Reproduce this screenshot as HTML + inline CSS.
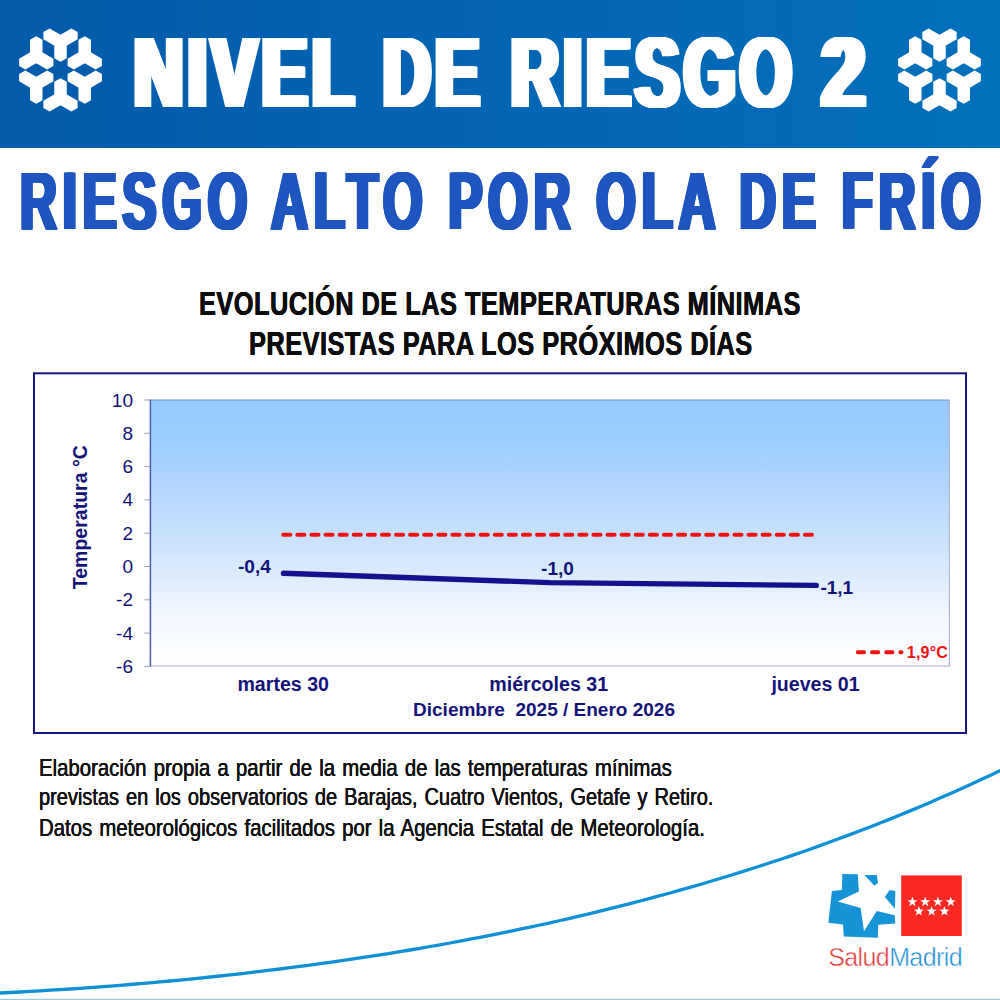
<!DOCTYPE html>
<html lang="es">
<head>
<meta charset="utf-8">
<title>Nivel de riesgo 2 - Riesgo alto por ola de frío</title>
<style>
html,body{margin:0;padding:0;}
body{width:1000px;height:1000px;position:relative;overflow:hidden;background:#fff;font-family:"Liberation Sans",sans-serif;}
.abs{position:absolute;}
.cond{position:absolute;white-space:nowrap;transform-origin:0 0;line-height:1;}
#hdr{left:0;top:0;width:1000px;height:148px;background:linear-gradient(90deg,#045aab 0%,#0270bc 100%);}
#h1{left:0;top:22.8px;width:1000px;height:100px;font-size:99.4px;font-weight:bold;color:#fff;letter-spacing:7px;line-height:1;white-space:nowrap;

 text-shadow:1px 0 #fff,-1px 0 #fff,2px 0 #fff,-2px 0 #fff,3px 0 #fff,-3px 0 #fff,4px 0 #fff,-4px 0 #fff,5px 0 #fff,-5px 0 #fff,6px 0 #fff,-6px 0 #fff;}
#h1 span{position:absolute;top:0;display:block;transform-origin:0 0;}
#h2{left:19.6px;top:160px;font-size:82px;font-weight:bold;color:#1f55bf;letter-spacing:9.3px;word-spacing:0px;transform:scaleX(0.622);
 text-shadow:1px 0 #1f55bf,-1px 0 #1f55bf,2px 0 #1f55bf,-2px 0 #1f55bf,3px 0 #1f55bf,-3px 0 #1f55bf,3.3px 0 #1f55bf,-3.3px 0 #1f55bf;}
.t3{font-size:33.3px;font-weight:bold;color:#0c0c0c;transform:scaleX(0.7625);letter-spacing:0.6px;text-shadow:0.35px 0 #0c0c0c,-0.35px 0 #0c0c0c;}
.ft{font-size:24.5px;color:#111;word-spacing:1.8px;text-shadow:0.2px 0 #111,-0.2px 0 #111;}
#gfx{position:absolute;left:0;top:0;}
#gfx text{font-family:"Liberation Sans",sans-serif;}
.yl{font-size:19px;fill:#13137a;text-anchor:end;}
.xl{font-size:19.6px;font-weight:bold;fill:#13137a;text-anchor:middle;}
.dl{font-size:19px;font-weight:bold;fill:#13137a;}
#logo{left:828.2px;top:944.6px;font-size:25px;line-height:1;letter-spacing:-0.6px;white-space:nowrap;-webkit-text-stroke:0.45px #fff;}
</style>
</head>
<body>
<div id="hdr" class="abs"></div>
<svg id="gfx" width="1000" height="1000" viewBox="0 0 1000 1000">
<defs>
<linearGradient id="pg" x1="0" y1="0" x2="0" y2="1"><stop offset="0" stop-color="#98caff"/><stop offset="0.15" stop-color="#9dcdff"/><stop offset="0.5" stop-color="#c6e0fd"/><stop offset="0.8" stop-color="#f0f6fe"/><stop offset="1" stop-color="#ffffff"/></linearGradient>
</defs>
<path fill="#fff" d="M66.75 42.00L66.75 58.19L60.50 61.80L54.25 58.19L54.25 42.00L60.50 38.39ZM57.38 36.59L71.40 28.49L77.65 32.10L77.65 39.32L63.62 47.41L57.37 43.80ZM57.38 47.41L43.35 39.32L43.35 32.10L49.60 28.49L63.62 36.59L63.63 43.80ZM39.38 50.59L53.40 58.68L53.40 65.90L47.15 69.51L33.13 61.41L33.13 54.20ZM30.00 56.00L30.00 39.81L36.25 36.20L42.50 39.81L42.50 56.00L36.25 59.61ZM39.38 61.41L25.35 69.51L19.10 65.90L19.10 58.68L33.13 50.59L39.38 54.20ZM33.13 78.59L47.15 70.49L53.40 74.10L53.40 81.32L39.38 89.41L33.13 85.80ZM33.13 89.41L19.10 81.32L19.10 74.10L25.35 70.49L39.38 78.59L39.38 85.80ZM42.50 84.00L42.50 100.19L36.25 103.80L30.00 100.19L30.00 84.00L36.25 80.39ZM54.25 98.00L54.25 81.81L60.50 78.20L66.75 81.81L66.75 98.00L60.50 101.61ZM63.62 103.41L49.60 111.51L43.35 107.90L43.35 100.68L57.38 92.59L63.63 96.20ZM63.62 92.59L77.65 100.68L77.65 107.90L71.40 111.51L57.37 103.41L57.37 96.20ZM81.62 89.41L67.60 81.32L67.60 74.10L73.85 70.49L87.87 78.59L87.87 85.80ZM91.00 84.00L91.00 100.19L84.75 103.80L78.50 100.19L78.50 84.00L84.75 80.39ZM81.62 78.59L95.65 70.49L101.90 74.10L101.90 81.32L87.87 89.41L81.62 85.80ZM87.87 61.41L73.85 69.51L67.60 65.90L67.60 58.68L81.62 50.59L87.87 54.20ZM87.87 50.59L101.90 58.68L101.90 65.90L95.65 69.51L81.62 61.41L81.62 54.20ZM78.50 56.00L78.50 39.81L84.75 36.20L91.00 39.81L91.00 56.00L84.75 59.61Z"/>
<path fill="#fff" d="M945.75 42.00L945.75 58.19L939.50 61.80L933.25 58.19L933.25 42.00L939.50 38.39ZM936.38 36.59L950.40 28.49L956.65 32.10L956.65 39.32L942.62 47.41L936.37 43.80ZM936.38 47.41L922.35 39.32L922.35 32.10L928.60 28.49L942.62 36.59L942.63 43.80ZM918.38 50.59L932.40 58.68L932.40 65.90L926.15 69.51L912.13 61.41L912.13 54.20ZM909.00 56.00L909.00 39.81L915.25 36.20L921.50 39.81L921.50 56.00L915.25 59.61ZM918.38 61.41L904.35 69.51L898.10 65.90L898.10 58.68L912.13 50.59L918.38 54.20ZM912.13 78.59L926.15 70.49L932.40 74.10L932.40 81.32L918.38 89.41L912.13 85.80ZM912.13 89.41L898.10 81.32L898.10 74.10L904.35 70.49L918.38 78.59L918.38 85.80ZM921.50 84.00L921.50 100.19L915.25 103.80L909.00 100.19L909.00 84.00L915.25 80.39ZM933.25 98.00L933.25 81.81L939.50 78.20L945.75 81.81L945.75 98.00L939.50 101.61ZM942.62 103.41L928.60 111.51L922.35 107.90L922.35 100.68L936.38 92.59L942.63 96.20ZM942.62 92.59L956.65 100.68L956.65 107.90L950.40 111.51L936.38 103.41L936.37 96.20ZM960.62 89.41L946.60 81.32L946.60 74.10L952.85 70.49L966.87 78.59L966.87 85.80ZM970.00 84.00L970.00 100.19L963.75 103.80L957.50 100.19L957.50 84.00L963.75 80.39ZM960.62 78.59L974.65 70.49L980.90 74.10L980.90 81.32L966.87 89.41L960.62 85.80ZM966.87 61.41L952.85 69.51L946.60 65.90L946.60 58.68L960.62 50.59L966.87 54.20ZM966.87 50.59L980.90 58.68L980.90 65.90L974.65 69.51L960.62 61.41L960.62 54.20ZM957.50 56.00L957.50 39.81L963.75 36.20L970.00 39.81L970.00 56.00L963.75 59.61Z"/>
<!-- chart -->
<rect x="34" y="373.3" width="932" height="359.7" fill="#fff" stroke="#14147e" stroke-width="2"/>
<rect x="150.4" y="400" width="799" height="266" fill="url(#pg)"/>
<path d="M150.4 400H949.5" stroke="#7090cc" stroke-width="1" fill="none"/>
<path d="M949.4 400V666.2M150 666H949.8" stroke="#a8aecb" stroke-width="1" fill="none"/>
<path d="M150.4 399.5V666.5" stroke="#4a5caa" stroke-width="1.5" fill="none"/>
<path d="M144.3 400.0H150M144.3 433.3H150M144.3 466.6H150M144.3 499.9H150M144.3 533.2H150M144.3 566.5H150M144.3 599.8H150M144.3 633.1H150M144.3 666.4H150" stroke="#9a9db5" stroke-width="1" fill="none"/>
<text class="yl" x="133" y="406.5">10</text>
<text class="yl" x="133" y="439.8">8</text>
<text class="yl" x="133" y="473.1">6</text>
<text class="yl" x="133" y="506.4">4</text>
<text class="yl" x="133" y="539.7">2</text>
<text class="yl" x="133" y="573.0">0</text>
<text class="yl" x="133" y="606.3">-2</text>
<text class="yl" x="133" y="639.6">-4</text>
<text class="yl" x="133" y="672.9">-6</text>
<text class="xl" style="font-size:19.5px" transform="translate(87.3 517.2) rotate(-90)">Temperatura °C</text>
<text class="xl" x="283.2" y="690.6">martes 30</text>
<text class="xl" x="548.7" y="690.6">miércoles 31</text>
<text class="xl" x="815.5" y="690.6">jueves 01</text>
<text class="xl" style="font-size:19px;white-space:pre" x="544" y="715.6" xml:space="preserve">Diciembre  2025 / Enero 2026</text>
<path d="M283.2 534.8H812" stroke="#ee1111" stroke-width="4" stroke-linecap="round" stroke-dasharray="7.1 7" fill="none"/>
<path d="M283.5 573.3L549.7 582.6L816.3 585.4" stroke="#12128e" stroke-width="5.4" stroke-linecap="round" stroke-linejoin="round" fill="none"/>
<text class="dl" x="238" y="573">-0,4</text>
<text class="dl" x="541.1" y="574.6">-1,0</text>
<text class="dl" x="820.4" y="593.7">-1,1</text>
<path d="M857.8 652.3H901.5" stroke="#ee1111" stroke-width="4" stroke-linecap="round" stroke-dasharray="6.2 8" fill="none"/>
<text x="906.8" y="657.8" style="font-size:16px;font-weight:bold;fill:#ee1111;letter-spacing:0.2px">1,9°C</text>
<!-- swoosh + bottom rule -->
<path d="M-10 993.4L0 993.0L10 992.5L20 992.0L30 991.4L40 990.8L50 990.2L60 989.6L70 989.0L80 988.3L90 987.6L100 986.9L110 986.1L120 985.3L130 984.5L140 983.7L150 982.8L160 981.9L170 981.0L180 980.1L190 979.1L200 978.1L210 977.0L220 976.0L230 974.9L240 973.8L250 972.6L260 971.4L270 970.2L280 969.0L290 967.7L300 966.4L310 965.1L320 963.7L330 962.3L340 960.9L350 959.4L360 957.9L370 956.4L380 954.8L390 953.3L400 951.6L410 950.0L420 948.3L430 946.5L440 944.8L450 943.0L460 941.1L470 939.2L480 937.3L490 935.4L500 933.4L510 931.3L520 929.2L530 927.1L540 925.0L550 922.8L560 920.5L570 918.3L580 915.9L590 913.6L600 911.1L610 908.7L620 906.2L630 903.6L640 901.0L650 898.4L660 895.7L670 893.0L680 890.2L690 887.3L700 884.5L710 881.5L720 878.5L730 875.5L740 872.4L750 869.2L760 866.0L770 862.8L780 859.5L790 856.1L800 852.7L810 849.2L820 845.6L830 842.0L840 838.3L850 834.6L860 830.8L870 827.0L880 823.0L890 819.1L900 815.0L910 810.9L920 806.7L930 802.4L940 798.1L950 793.7L960 789.3L970 784.7L980 780.1L990 775.4L1000 770.7L1010 765.9" stroke="#0d90d6" stroke-width="3.3" fill="none"/>
<rect x="0" y="998.8" width="1000" height="1.2" fill="#9fc8da"/>
<!-- logo -->
<g fill="#1794d7">
<path d="M842.3 873.9L857.8 874.2L858.9 891.4L837.7 901.4L860.6 907.9L864 931.2L876.8 911.1L894.7 915.3L895.3 923.5L878.2 924.7L877.8 937.7L843.8 936.6L843 924.5L828.3 922.8L831.9 890.9L841.9 890.1Z"/>
<path d="M864.4 875L876.8 875L878 883L874.4 885.7Z"/>
<path d="M889.7 890.1L895.3 890.9L895 908.8L884.8 896.9Z"/>
</g>
<rect x="901.2" y="875.4" width="60.6" height="60.6" fill="#fa2823"/>
<path fill="#fff" d="M912.40 896.60L913.65 900.18L917.44 900.26L914.42 902.56L915.52 906.19L912.40 904.02L909.28 906.19L910.38 902.56L907.36 900.26L911.15 900.18ZM925.20 896.60L926.45 900.18L930.24 900.26L927.22 902.56L928.32 906.19L925.20 904.02L922.08 906.19L923.18 902.56L920.16 900.26L923.95 900.18ZM937.90 896.60L939.15 900.18L942.94 900.26L939.92 902.56L941.02 906.19L937.90 904.02L934.78 906.19L935.88 902.56L932.86 900.26L936.65 900.18ZM950.70 896.60L951.95 900.18L955.74 900.26L952.72 902.56L953.82 906.19L950.70 904.02L947.58 906.19L948.68 902.56L945.66 900.26L949.45 900.18ZM918.90 906.00L920.15 909.58L923.94 909.66L920.92 911.96L922.02 915.59L918.90 913.42L915.78 915.59L916.88 911.96L913.86 909.66L917.65 909.58ZM931.60 906.00L932.85 909.58L936.64 909.66L933.62 911.96L934.72 915.59L931.60 913.42L928.48 915.59L929.58 911.96L926.56 909.66L930.35 909.58ZM944.40 906.00L945.65 909.58L949.44 909.66L946.42 911.96L947.52 915.59L944.40 913.42L941.28 915.59L942.38 911.96L939.36 909.66L943.15 909.58Z"/>
</svg>
<div id="h1" class="abs"><span style="left:133.7px;transform:scaleX(0.6848)">NIVEL</span> <span style="left:383.3px;transform:scaleX(0.6644)">DE</span> <span style="left:510.5px;transform:scaleX(0.6654)">RIESGO</span> <span style="left:822.3px;transform:scaleX(0.7733)">2</span></div>
<div id="h2" class="cond">RIESGO ALTO POR OLA DE FRÍO</div>
<div id="t3a" class="cond t3" style="left:199.2px;top:287.4px;">EVOLUCIÓN DE LAS TEMPERATURAS MÍNIMAS</div>
<div id="t3b" class="cond t3" style="left:249.2px;top:326.9px;">PREVISTAS PARA LOS PRÓXIMOS DÍAS</div>
<div id="f1" class="cond ft" style="left:38.6px;top:755.7px;transform:scaleX(0.831)">Elaboración propia a partir de la media de las temperaturas mínimas</div>
<div id="f2" class="cond ft" style="left:38.6px;top:785.3px;transform:scaleX(0.816)">previstas en los observatorios de Barajas, Cuatro Vientos, Getafe y Retiro.</div>
<div id="f3" class="cond ft" style="left:38.6px;top:815.7px;transform:scaleX(0.8307)">Datos meteorológicos facilitados por la Agencia Estatal de Meteorología.</div>
<div id="logo" class="abs"><span style="color:#e0393a">Salud</span><span style="color:#1a8ed2">Madrid</span></div>
</body>
</html>
